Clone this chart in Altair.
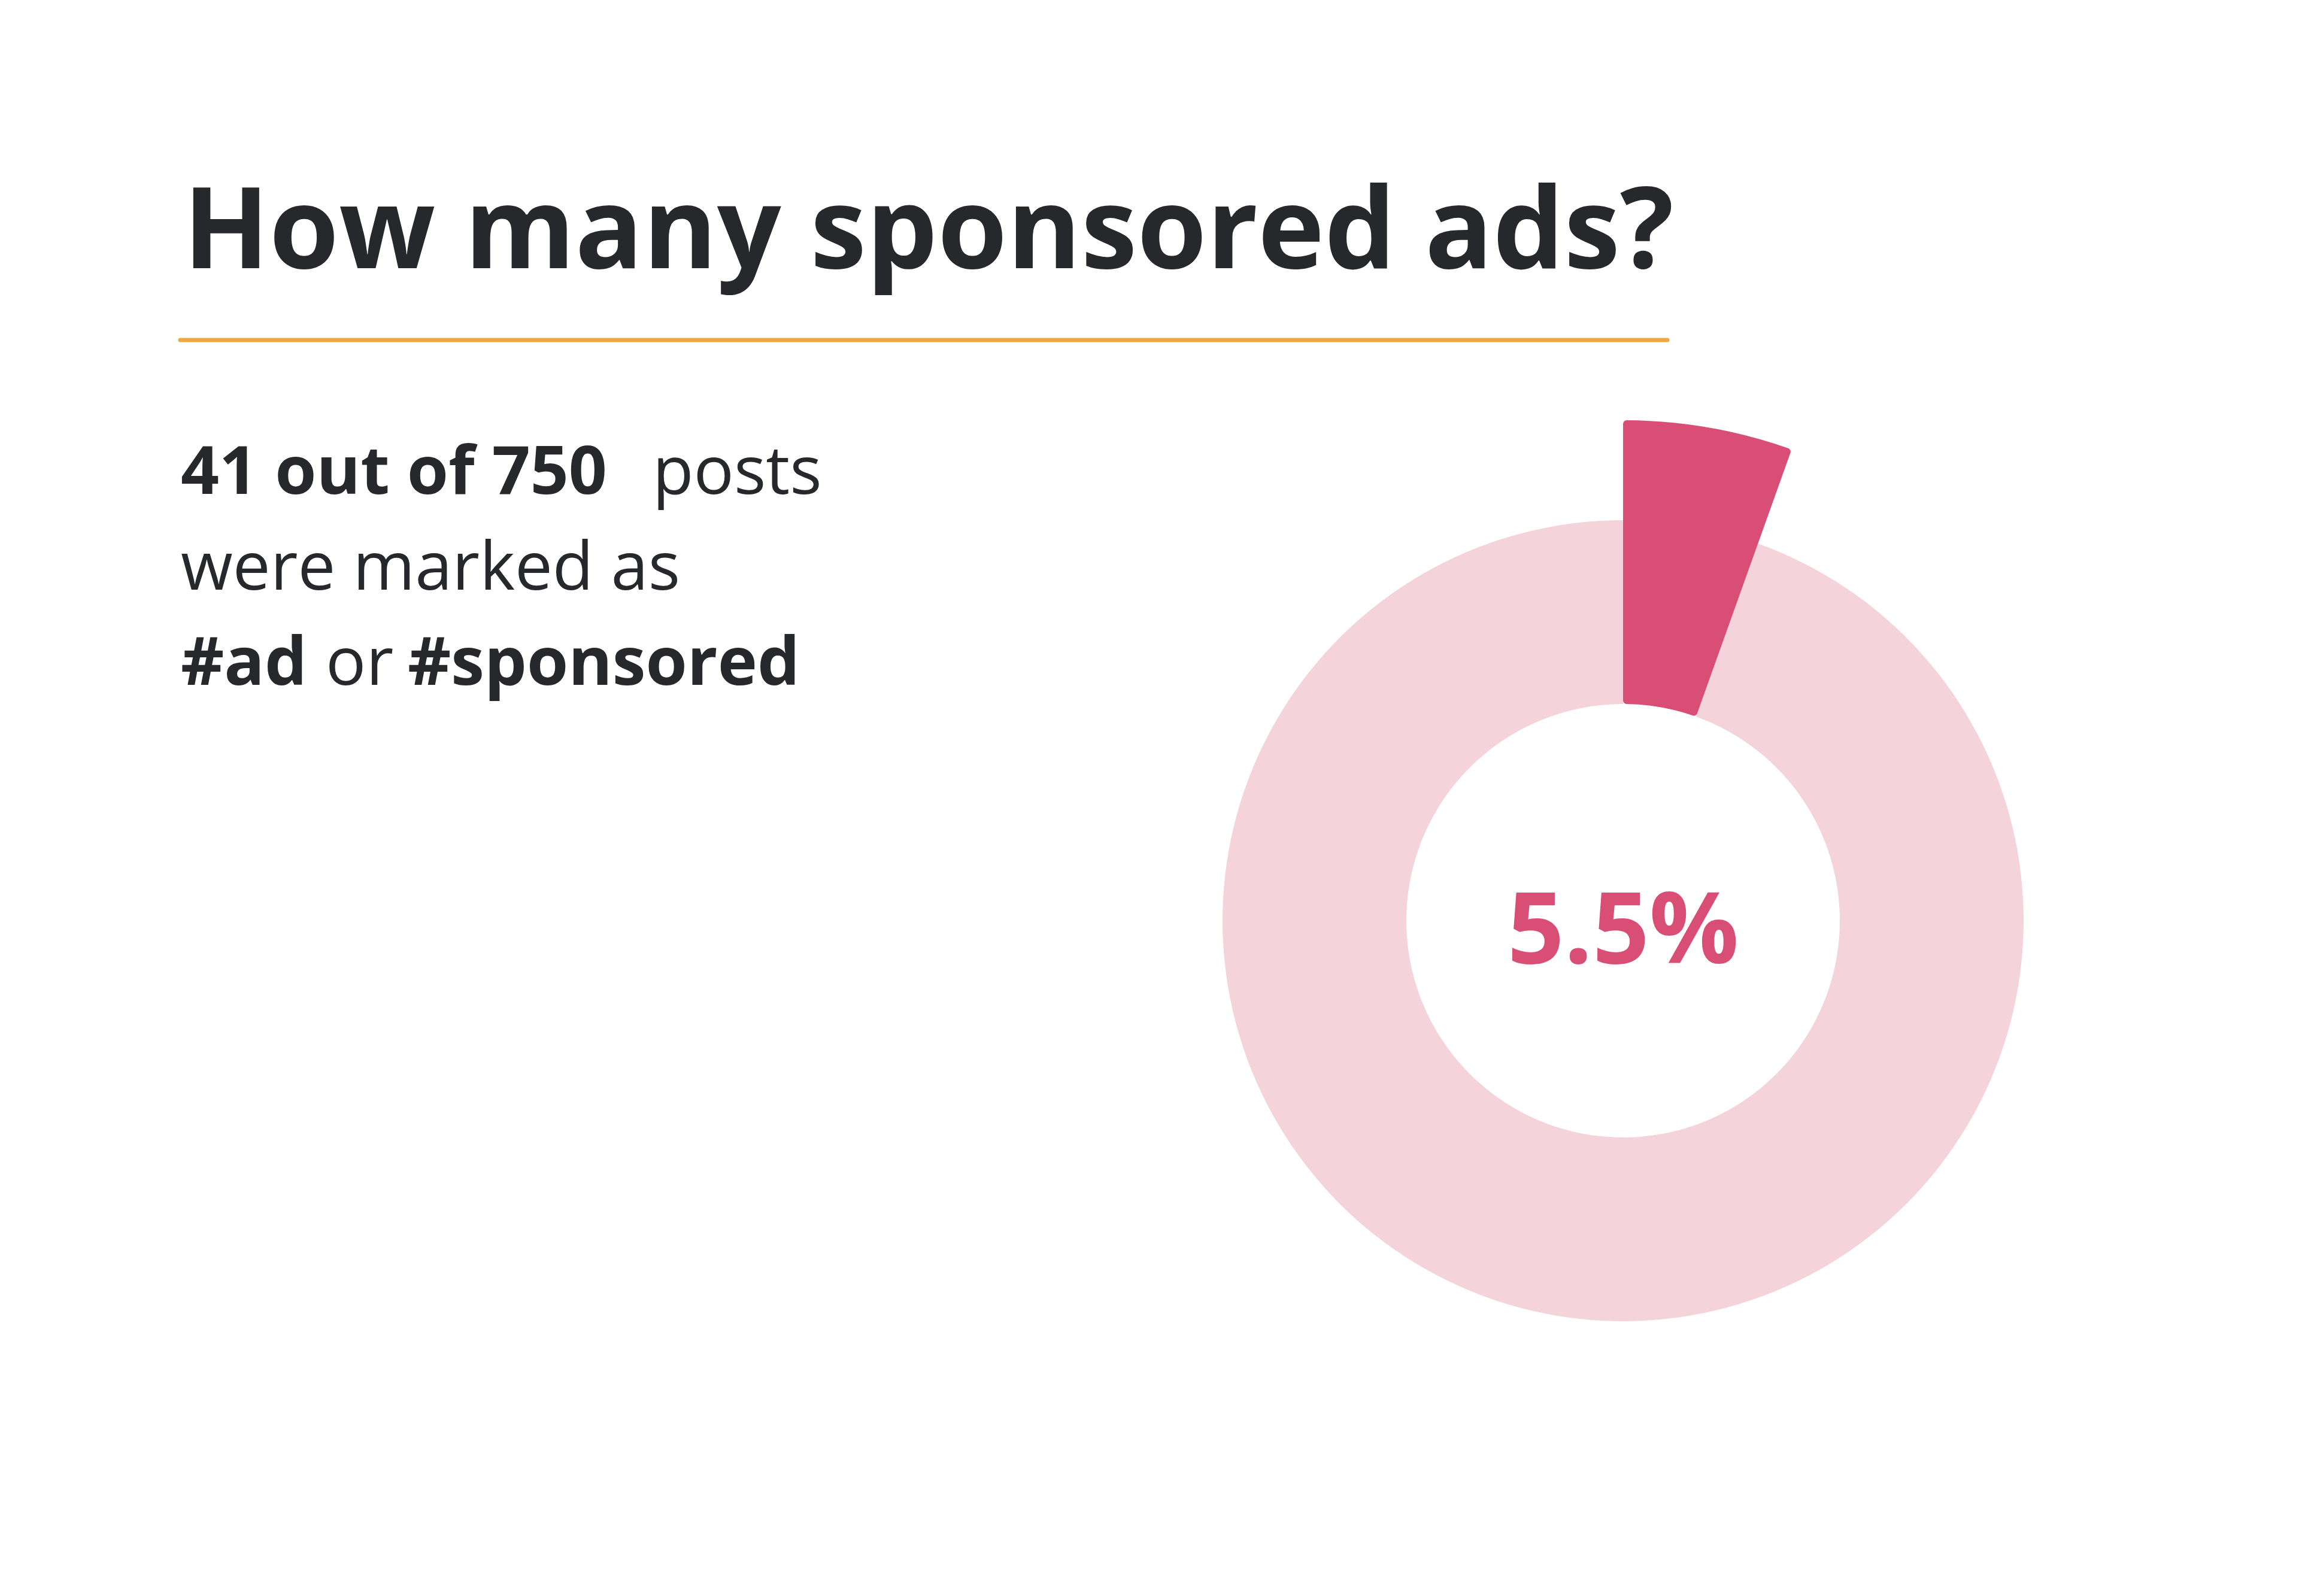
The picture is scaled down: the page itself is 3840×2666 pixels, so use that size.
import math
import altair as alt
import pandas as pd

# Share of posts tagged as advertising
sponsored_posts = 41
total_posts = 750
share_label = "5.5%"

title_text = "How many sponsored ads?"
line1_parts = ["41 out of 750", "posts"]
line2_text = "were marked as"
line3_parts = ["#ad", "or", "#sponsored"]

DARK = "#27282C"
PINK = "#D94E75"
LIGHT_PINK = "#F4D3DA"
ORANGE = "#F0A940"
FONT = "Open Sans"

W, H = 3840, 2666
CX, CY = 2711, 1538
INNER_R, RING_R, SLICE_R = 362, 669, 836

slices = pd.DataFrame({
    "part": ["sponsored", "other"],
    "start": [0, sponsored_posts],
    "end": [sponsored_posts, total_posts],
})

theta_scale = alt.Scale(domain=[0, total_posts], range=[0, 2 * math.pi])

base = alt.Chart(slices)

ring = base.transform_filter(alt.datum.part == "other").mark_arc(
    color=LIGHT_PINK
).encode(
    theta=alt.Theta("start:Q", scale=theta_scale),
    theta2="end:Q",
    radius=alt.value(RING_R),
    radius2=alt.value(INNER_R),
    x=alt.value(CX),
    y=alt.value(CY),
)

highlight = base.transform_filter(alt.datum.part == "sponsored").mark_arc(
    color=PINK, cornerRadius=6
).encode(
    theta=alt.Theta("start:Q", scale=theta_scale),
    theta2="end:Q",
    radius=alt.value(SLICE_R),
    radius2=alt.value(INNER_R),
    x=alt.value(CX),
    y=alt.value(CY),
)


def label(text, x, y, size, weight, color=DARK, align="left"):
    return alt.Chart(pd.DataFrame({"t": [text]})).mark_text(
        font=FONT, fontSize=size, fontWeight=weight, color=color,
        align=align, baseline="alphabetic",
    ).encode(text="t:N", x=alt.value(x), y=alt.value(y))


title = label(title_text, 306, 448, 188, "bold")

divider = alt.Chart(pd.DataFrame({"a": [0]})).mark_rule(
    color=ORANGE, strokeWidth=7, strokeCap="round"
).encode(x=alt.value(301), x2=alt.value(2785), y=alt.value(568))

body = [
    label(line1_parts[0], 302, 825, 112, "bold"),
    label(line1_parts[1], 1090, 825, 112, 400),
    label(line2_text, 302, 985, 112, 400),
    label(line3_parts[0], 302, 1144, 112, "bold"),
    label(line3_parts[1], 544, 1144, 112, 400),
    label(line3_parts[2], 681, 1144, 112, "bold"),
]

center = label(share_label, CX, 1609, 166, "bold", color=PINK, align="center")

chart = alt.layer(ring, highlight, divider, title, *body, center).properties(
    width=W, height=H,
    autosize=alt.AutoSizeParams(type="none"),
    padding=0,
    background="white",
).configure_view(stroke=None)

chart.save("out.html", embed_options={"renderer": "svg", "actions": False})
